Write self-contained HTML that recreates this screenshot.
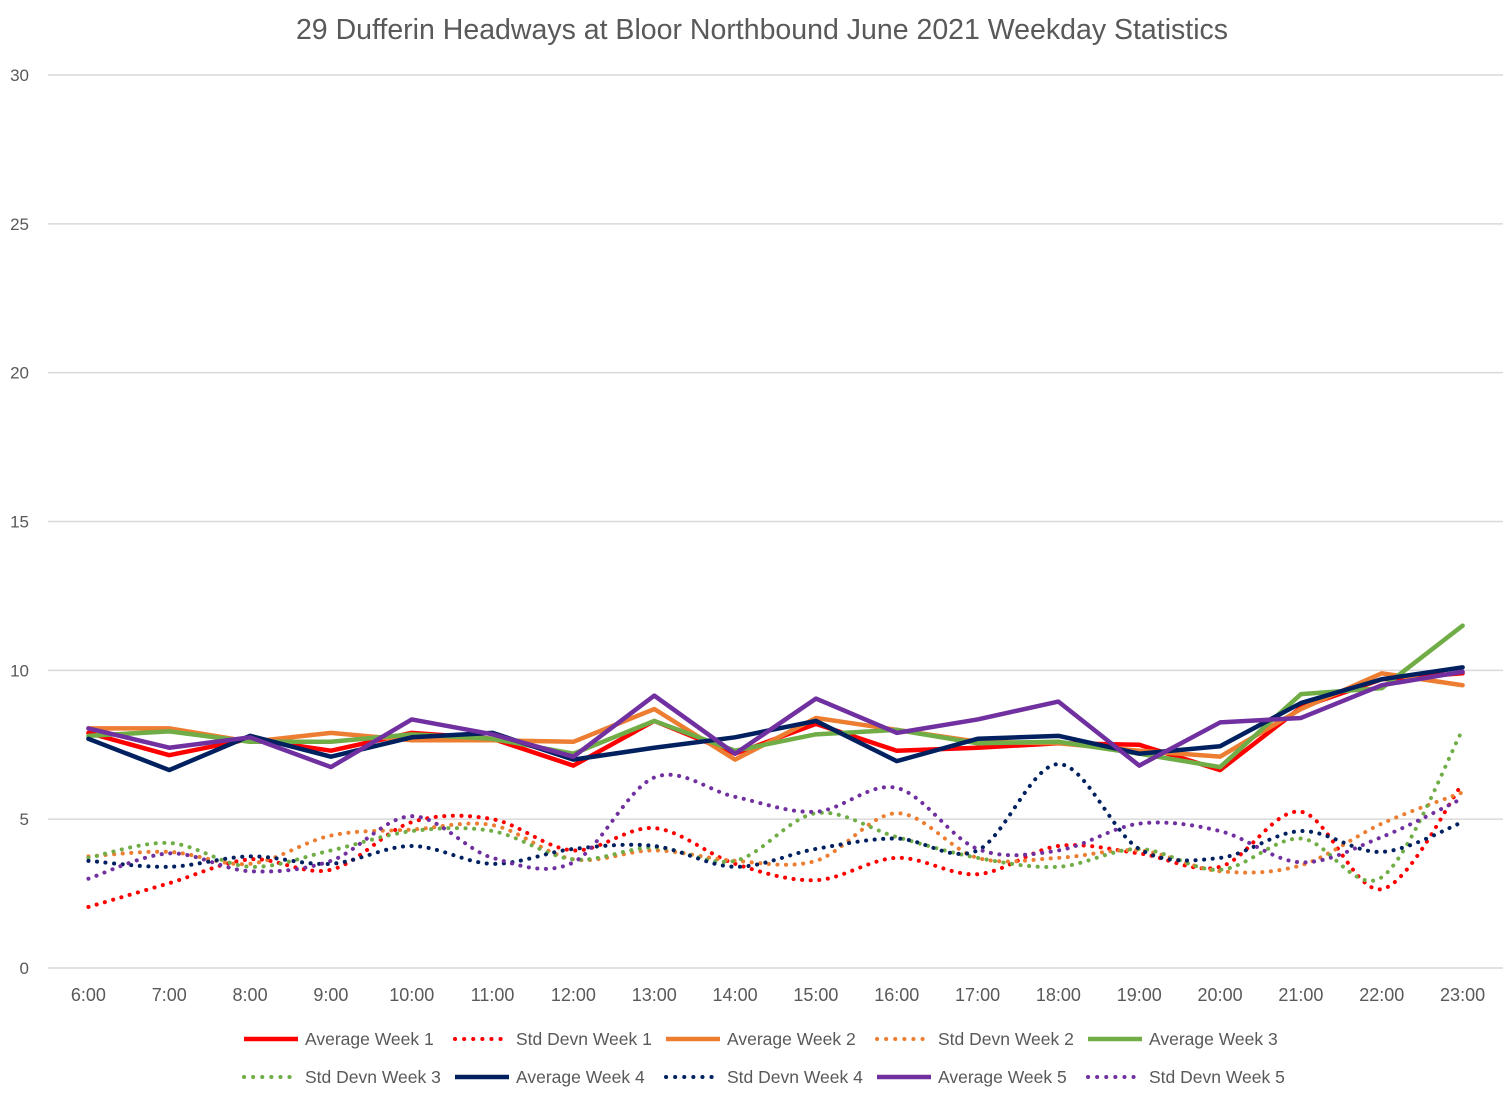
<!DOCTYPE html>
<html><head><meta charset="utf-8"><style>
body{margin:0;background:#fff;font-family:"Liberation Sans",sans-serif;}
svg text{font-family:"Liberation Sans",sans-serif;}
</style></head><body>
<svg id="chart" width="1507" height="1099" xmlns="http://www.w3.org/2000/svg">
<text x="762" y="39" text-anchor="middle" font-size="28.5" fill="#595959">29 Dufferin Headways at Bloor Northbound June 2021 Weekday Statistics</text>
<g id="grid"></g><g id="series"></g><g id="legend"></g>
</svg>
<script>
const categories=["6:00","7:00","8:00","9:00","10:00","11:00","12:00","13:00","14:00","15:00","16:00","17:00","18:00","19:00","20:00","21:00","22:00","23:00"];
const yTicks=[0,5,10,15,20,25,30];
const avgW1=[7.9,7.15,7.7,7.3,7.9,7.7,6.8,8.3,7.2,8.2,7.3,7.4,7.55,7.5,6.65,8.75,9.7,9.9];
const stdW1=[2.05,2.85,3.65,3.3,4.9,5.0,3.95,4.7,3.5,2.95,3.7,3.15,4.1,3.85,3.4,5.25,2.65,6.2];
const avgW2=[8.05,8.05,7.6,7.9,7.65,7.65,7.6,8.7,7.0,8.4,8.0,7.6,7.55,7.3,7.1,8.7,9.9,9.5];
const stdW2=[3.75,3.9,3.5,4.45,4.65,4.8,3.65,3.95,3.6,3.6,5.2,3.7,3.7,3.95,3.25,3.45,4.85,5.9];
const avgW3=[7.8,7.95,7.6,7.6,7.85,7.7,7.2,8.3,7.3,7.85,8.0,7.55,7.6,7.2,6.75,9.2,9.4,11.5];
const stdW3=[3.7,4.2,3.4,3.95,4.6,4.6,3.65,4.05,3.6,5.2,4.4,3.7,3.4,4.0,3.3,4.35,3.05,8.0];
const avgW4=[7.7,6.65,7.8,7.1,7.75,7.9,7.0,7.4,7.75,8.3,6.95,7.7,7.8,7.2,7.45,8.9,9.7,10.1];
const stdW4=[3.6,3.4,3.75,3.5,4.1,3.5,4.0,4.1,3.4,4.0,4.35,3.95,6.85,4.0,3.7,4.6,3.9,4.9];
const avgW5=[8.05,7.4,7.75,6.75,8.35,7.85,7.1,9.15,7.2,9.05,7.9,8.35,8.95,6.8,8.25,8.4,9.5,9.95];
const stdW5=[3.0,3.85,3.25,3.6,5.1,3.7,3.55,6.4,5.75,5.25,6.05,4.0,3.95,4.85,4.6,3.55,4.4,5.7];

const NS="http://www.w3.org/2000/svg";
const L=48,R=1503,T=75,B=968;
const xs=i=>L+(R-L)*(i+0.5)/categories.length;
const ys=v=>B-(B-T)*v/30;
function mk(tag,attrs,parent){const e=document.createElementNS(NS,tag);for(const k in attrs)e.setAttribute(k,attrs[k]);parent.appendChild(e);return e;}
const grid=document.getElementById('grid');
yTicks.forEach(t=>{
  const ln=mk('line',{x1:L,x2:R,y1:ys(t),y2:ys(t),stroke:'#d9d9d9','stroke-width':1.5},grid);
  
  
  const tx=mk('text',{x:29,y:ys(t)+6,'text-anchor':'end','font-size':17,fill:'#595959'},grid);
  tx.textContent=t;
  
  
});
categories.forEach((c,i)=>{
  const tx=mk('text',{x:xs(i),y:1001,'text-anchor':'middle','font-size':18,fill:'#595959'},grid);
  tx.textContent=c;
  
  
});
function smooth(pts){let d=`M${pts[0][0]},${pts[0][1]}`;for(let i=0;i<pts.length-1;i++){const p0=pts[i-1]||pts[i],p1=pts[i],p2=pts[i+1],p3=pts[i+2]||p2;const t=6;d+=` C${p1[0]+(p2[0]-p0[0])/t},${p1[1]+(p2[1]-p0[1])/t} ${p2[0]-(p3[0]-p1[0])/t},${p2[1]-(p3[1]-p1[1])/t} ${p2[0]},${p2[1]}`;}return d;}
const seriesList=[
 ["Average Week 1",avgW1,"#ff0000",false],["Std Devn Week 1",stdW1,"#ff0000",true],
 ["Average Week 2",avgW2,"#ed7d31",false],["Std Devn Week 2",stdW2,"#ed7d31",true],
 ["Average Week 3",avgW3,"#70ad47",false],["Std Devn Week 3",stdW3,"#70ad47",true],
 ["Average Week 4",avgW4,"#002060",false],["Std Devn Week 4",stdW4,"#002060",true],
 ["Average Week 5",avgW5,"#7030a0",false],["Std Devn Week 5",stdW5,"#7030a0",true]];
const sg=document.getElementById('series'),lg=document.getElementById('legend');
const order=[1,3,5,7,9,0,2,4,6,8];
order.forEach(k=>{
  const [name,vals,col,dot]=seriesList[k];
  const pts=vals.map((v,i)=>[xs(i),ys(v)]);
  const p=mk('path',{d:dot?smooth(pts):'M'+pts.map(q=>q.join(',')).join(' L'),fill:'none',stroke:col,'stroke-width':dot?4:4.5,'stroke-linejoin':'round','stroke-linecap':'round','stroke-dasharray':dot?'0.1 8.5':'none'},sg);
  
  
});
seriesList.forEach(([name,vals,col,dot],k)=>{
  const row=Math.floor(k/5),c=k%5;
  const x=242+c*211,y=row?1077:1039;
  const g=mk('g',{},lg);
  
  
  mk('line',{x1:x+2,x2:x+56,y1:y,y2:y,stroke:col,'stroke-width':dot?4:4.5,'stroke-linecap':dot?'round':'butt','stroke-dasharray':dot?'0.1 9':'none'},g);
  const t=mk('text',{x:x+63,y:y+6,'font-size':17.5,fill:'#595959'},g);
  t.textContent=name;
});
</script>
</body></html>
